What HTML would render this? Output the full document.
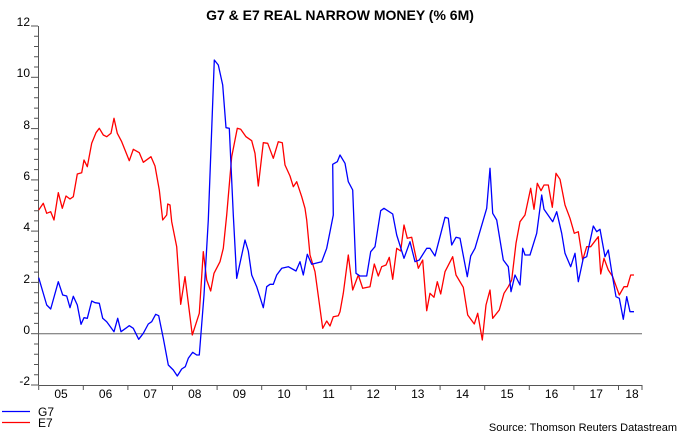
<!DOCTYPE html>
<html><head><meta charset="utf-8"><style>
html,body{margin:0;padding:0;background:#fff;}
svg{display:block;font-family:"Liberation Sans",Arial,sans-serif;}
</style></head><body>
<svg width="680" height="435" viewBox="0 0 680 435" xmlns="http://www.w3.org/2000/svg">
<text x="340" y="20" text-anchor="middle" font-size="14" font-weight="bold">G7 &amp; E7 REAL NARROW MONEY (% 6M)</text>
<g fill="#000" font-size="12" text-anchor="end">
<text x="30" y="26">12</text><text x="30" y="77">10</text><text x="30" y="129">8</text><text x="30" y="180">6</text><text x="30" y="231">4</text><text x="30" y="283">2</text><text x="30" y="334">0</text><text x="30" y="385">-2</text>
</g>
<g stroke="#555" stroke-width="1">
<line x1="38.5" y1="26" x2="38.5" y2="385"/>
<line x1="38.5" y1="385.5" x2="642" y2="385.5"/>
<line x1="38.5" y1="333.7" x2="642" y2="333.7" stroke="#666"/>
<line x1="31" y1="26" x2="38" y2="26"/><line x1="31" y1="77.3" x2="38" y2="77.3"/><line x1="31" y1="128.6" x2="38" y2="128.6"/><line x1="31" y1="179.9" x2="38" y2="179.9"/><line x1="31" y1="231.1" x2="38" y2="231.1"/><line x1="31" y1="282.4" x2="38" y2="282.4"/><line x1="31" y1="333.7" x2="38" y2="333.7"/><line x1="31" y1="385" x2="38" y2="385"/>
<path d="M34 36.3h4M34 46.5h4M34 56.8h4M34 67h4M34 87.6h4M34 97.8h4M34 108.1h4M34 118.3h4M34 138.9h4M34 149.1h4M34 159.4h4M34 169.6h4M34 190.2h4M34 200.4h4M34 210.7h4M34 220.9h4M34 241.4h4M34 251.6h4M34 261.9h4M34 272.1h4M34 292.7h4M34 302.9h4M34 313.2h4M34 323.4h4M34 344h4M34 354.2h4M34 364.5h4M34 374.7h4"/>
<path d="M38.7 385v5M83.3 385v5M127.9 385v5M172.5 385v5M217.1 385v5M261.7 385v5M306.3 385v5M350.9 385v5M395.5 385v5M440.1 385v5M484.7 385v5M529.3 385v5M573.9 385v5M618.5 385v5M642 385v5"/>
</g>
<g font-size="12" text-anchor="middle" fill="#000">
<text x="61" y="398">05</text><text x="105.6" y="398">06</text><text x="150.2" y="398">07</text><text x="194.8" y="398">08</text><text x="239.4" y="398">09</text><text x="284" y="398">10</text><text x="328.6" y="398">11</text><text x="373.2" y="398">12</text><text x="417.8" y="398">13</text><text x="462.4" y="398">14</text><text x="507" y="398">15</text><text x="551.6" y="398">16</text><text x="596.2" y="398">17</text><text x="632" y="398">18</text>
</g>
<polyline fill="none" stroke="#ff0000" stroke-width="1.3" stroke-linejoin="round" points="38.7,210 43.3,203.3 46.7,213.3 50.7,211.7 54,220 58.3,192.7 62.3,208.3 66,196 70,199 73.3,196.7 77.3,174 81.7,172.7 84,160 87.3,166.7 91.7,143.3 96,132.7 99.3,128.3 103.3,135 106.7,136.7 111,133.3 114,118.3 117.3,133.3 121.7,141.7 129.3,160.7 133.3,149.3 139.3,152.7 143.3,162.3 151,156.7 155,166 159.3,190 162.7,220 166.7,215 167.7,204 170,205 171.7,221.7 176.7,246.7 180.7,304.3 185,276.7 192.3,335 199.3,313.3 203.3,251.7 206.7,280 210.7,291 214,273.3 220,261.7 223.3,248.3 226.7,215 231.7,156.7 237.3,128.3 240.7,129.3 246,136.7 251.7,140.7 255,153.3 258.3,186 263.3,142.7 267.7,143.3 273.3,158.3 278.3,141.7 282.3,142.7 285,165 290,176 293.3,186.7 296.7,181.7 301.7,196.7 305,208.3 306.7,220 310,255 315,271.7 322.7,328.3 326.7,321 330,326 333.3,316.7 338.3,315.7 340,311.7 343.3,293.3 348.3,255 352.7,290 358.3,275 362.7,288.3 370,286.7 374.3,264 378.3,276 381.7,266.7 386,265 389.3,257.3 392.7,279.3 396.7,248.3 400.7,251 404,225 407.3,238.3 411.7,237.3 418.3,268.3 422.7,260 426.7,310.7 430,293.3 434,297.3 437.3,281.7 440.7,294 445,271.7 452.7,256.7 456,275 463.3,287.3 467.7,315 474.3,324 477.7,313.3 482.3,340 486,305 490,290 492.7,318.3 499.3,310 504,293.3 508.3,286.7 511.7,280 516,243.3 520,221.7 525,215 530.7,188.3 534,209.3 537.3,183.3 541,190.7 544,185 548.3,185 552.3,207.3 556,173.3 560,179.3 565,205 570,218.3 574.3,233.3 578.3,231.7 582.7,260 586.7,246.7 590.7,246.7 598.3,236.7 600.7,274 604,258.3 608.3,270 612.7,276.7 619.3,295 624,286.7 627.3,286.7 630.7,275 634,275"/>
<polyline fill="none" stroke="#0000ff" stroke-width="1.3" stroke-linejoin="round" points="38.7,277.7 46.7,305 50.7,309 58.3,281.7 62.7,295 66.7,296 70,307.7 73.3,296.3 77.3,305 81,324.3 84,317.7 87.3,318.3 91.7,301 95,302.7 99.3,303.3 102.7,318.3 106.7,321.7 114,331.7 117.7,318.3 121,331.7 129.3,325.7 133.3,328.3 138.7,339.3 143.3,333.3 148.3,324 151.7,321.7 155.7,314.3 158.7,315.7 163.3,338.3 168.3,365 173.3,370 177.3,376 181.7,369 185.3,366.7 188.3,358.3 192.7,352.3 196.7,355 199.3,355 204,295 208.3,220 214.3,60 218.3,65 222.7,85 226,127.7 229.3,128.3 233.3,215 236.7,278.3 245,240 248.3,251 251.7,275 256.7,286.7 263.3,307.7 266.7,286.7 270,284.3 273.3,284.3 276.7,275 281.7,268.3 288.3,266.7 296,271 300,261.7 303.3,275 307.3,254.3 311.7,264.3 321.7,261.7 326.7,248.3 330,231.7 333.3,215 332.7,164.3 337.3,161.7 340,155 345,163.3 348.3,181.7 352.7,190 356,273.3 360,276 366.7,276 370.7,251.7 375,246.7 380.7,210.7 384,208.3 392.7,214 396.7,235 404,258.3 410,241.7 415,261.7 419.3,260 426.7,248.3 430,248.3 435,256 440,236.7 445,217.3 448.3,218.3 451.7,245 456,237.3 460,238.3 467.3,276.7 470.7,256 475,248.3 486.7,208.3 490,168.3 492.7,213.3 496.7,220 503.3,260 508.3,266.7 511,291.7 515,275 520,285 522.7,248.3 525,255 530,255 536.7,233.3 541.7,195 544,209.3 552.7,221.7 556.7,211.7 561.7,233.3 565,253.3 570.7,266.7 575,253.3 578.3,281.7 583.3,258.3 586.7,256.7 593.3,226 596.7,231.7 600,229.3 605,256.7 608.3,250 611.7,271.7 616,296.7 619.3,298.3 623.3,319.3 626.7,296.7 630,311.7 634,311.7"/>
<line x1="2" y1="411.5" x2="30" y2="411.5" stroke="#0000ff" stroke-width="1.3"/>
<line x1="2" y1="422.5" x2="30" y2="422.5" stroke="#ff0000" stroke-width="1.3"/>
<text x="38" y="416" font-size="12">G7</text>
<text x="38" y="427" font-size="12">E7</text>
<text x="677" y="431" font-size="11" text-anchor="end">Source: Thomson Reuters Datastream</text>
</svg>
</body></html>
